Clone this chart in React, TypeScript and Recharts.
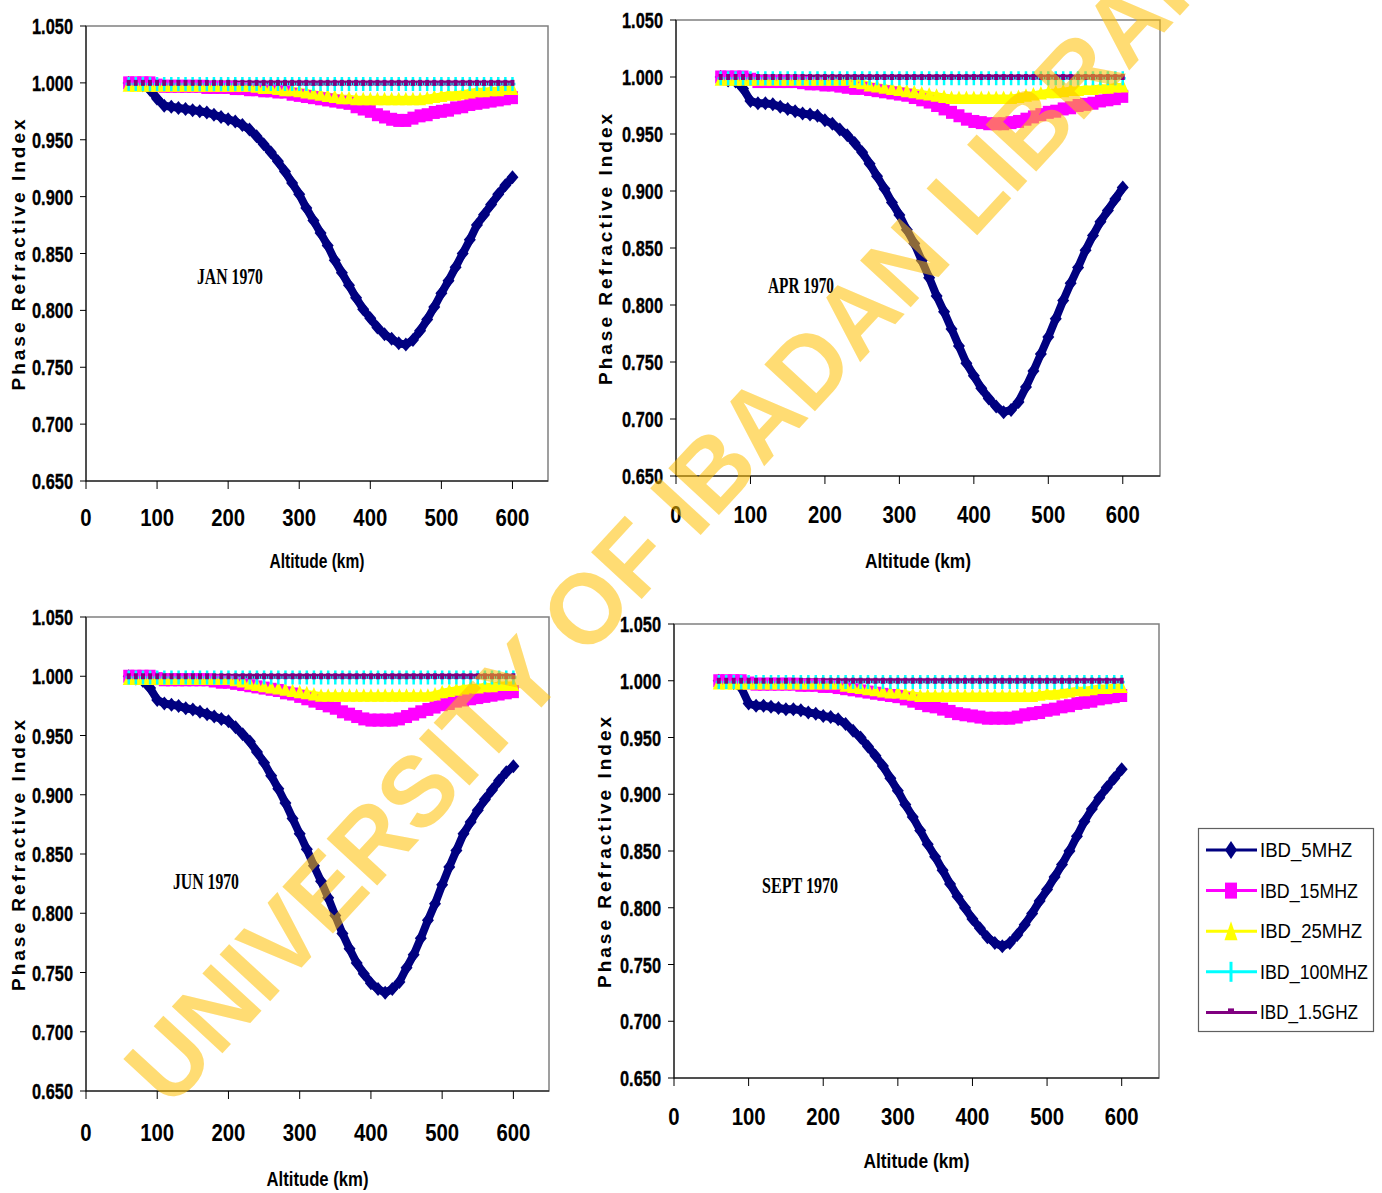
import React from "react"
import { LineChart, Line, XAxis, YAxis, ReferenceArea } from "recharts"

// altitude grid of the model output (km)
const altitudeKm = [
  60, 70, 80, 90, 100, 110, 120, 130, 140, 150, 160, 170, 180, 190, 200, 210, 220, 230, 240, 250,
  260, 270, 280, 290, 300, 310, 320, 330, 340, 350, 360, 370, 380, 390, 400, 410, 420, 430, 440, 450,
  460, 470, 480, 490, 500, 510, 520, 530, 540, 550, 560, 570, 580, 590, 600,
]

const jan5MHz = [
  1.0, 0.999, 0.998, 0.994, 0.986, 0.98, 0.979, 0.978, 0.977, 0.976,
  0.975, 0.974, 0.972, 0.97, 0.968, 0.966, 0.963, 0.959, 0.953, 0.946,
  0.939, 0.931, 0.922, 0.912, 0.902, 0.89, 0.879, 0.868, 0.857, 0.844,
  0.833, 0.822, 0.811, 0.801, 0.793, 0.785, 0.779, 0.775, 0.771, 0.77,
  0.774, 0.782, 0.792, 0.803, 0.815, 0.826, 0.838, 0.85, 0.862, 0.875,
  0.884, 0.893, 0.902, 0.91, 0.917,
]
const jan15MHz = [
  1.0, 1.0, 1.0, 1.0, 0.998, 0.997, 0.997, 0.997, 0.997, 0.997,
  0.997, 0.996, 0.996, 0.996, 0.996, 0.995, 0.995, 0.994, 0.994, 0.993,
  0.993, 0.992, 0.992, 0.99, 0.989, 0.988, 0.987, 0.986, 0.985, 0.984,
  0.983, 0.982, 0.979, 0.977, 0.975, 0.972, 0.97, 0.968, 0.967, 0.967,
  0.969, 0.971, 0.972, 0.974, 0.975, 0.976, 0.978, 0.979, 0.981, 0.982,
  0.983, 0.984, 0.985, 0.986, 0.987,
]
const jan25MHz = [
  0.998, 0.998, 0.998, 0.998, 0.998, 0.998, 0.998, 0.998, 0.998, 0.998,
  0.998, 0.998, 0.998, 0.998, 0.998, 0.998, 0.998, 0.998, 0.997, 0.996,
  0.996, 0.995, 0.994, 0.994, 0.993, 0.992, 0.991, 0.99, 0.989, 0.988,
  0.987, 0.987, 0.986, 0.986, 0.986, 0.986, 0.986, 0.986, 0.986, 0.986,
  0.986, 0.986, 0.987, 0.988, 0.989, 0.99, 0.99, 0.991, 0.992, 0.993,
  0.993, 0.994, 0.994, 0.995, 0.995,
]

const apr5MHz = [
  1.0, 0.997, 0.996, 0.99, 0.979, 0.977, 0.977, 0.976, 0.974, 0.972,
  0.97, 0.968, 0.967, 0.966, 0.962, 0.959, 0.954, 0.949, 0.942, 0.934,
  0.924, 0.913, 0.902, 0.89, 0.879, 0.866, 0.854, 0.839, 0.824, 0.808,
  0.794, 0.779, 0.764, 0.749, 0.738, 0.727, 0.718, 0.711, 0.706, 0.708,
  0.715, 0.728, 0.742, 0.757, 0.772, 0.788, 0.804, 0.819, 0.833, 0.848,
  0.861, 0.873, 0.883, 0.893, 0.903,
]
const apr15MHz = [
  1.0, 1.0, 1.0, 1.0, 0.998, 0.996, 0.996, 0.996, 0.996, 0.996,
  0.996, 0.995, 0.994, 0.994, 0.993, 0.993, 0.992, 0.991, 0.99, 0.99,
  0.989, 0.988, 0.987, 0.986, 0.985, 0.984, 0.982, 0.98, 0.978, 0.975,
  0.972, 0.969, 0.966, 0.963, 0.961, 0.96, 0.959, 0.959, 0.959, 0.96,
  0.961, 0.963, 0.965, 0.967, 0.969, 0.97, 0.972, 0.973, 0.975, 0.976,
  0.977, 0.979, 0.98, 0.981, 0.983,
]
const apr25MHz = [
  0.998, 0.998, 0.998, 0.998, 0.998, 0.998, 0.998, 0.998, 0.998, 0.998,
  0.998, 0.998, 0.998, 0.998, 0.998, 0.998, 0.998, 0.998, 0.996, 0.995,
  0.993, 0.992, 0.991, 0.99, 0.989, 0.988, 0.987, 0.986, 0.985, 0.984,
  0.983, 0.982, 0.982, 0.982, 0.982, 0.982, 0.982, 0.982, 0.982, 0.982,
  0.983, 0.984, 0.985, 0.986, 0.987, 0.987, 0.988, 0.989, 0.989, 0.99,
  0.99, 0.991, 0.991, 0.992, 0.992,
]

const jun5MHz = [
  1.0, 0.998, 0.996, 0.99, 0.98, 0.977, 0.976, 0.975, 0.973, 0.972,
  0.97, 0.968, 0.966, 0.964, 0.962, 0.957, 0.951, 0.945, 0.936, 0.927,
  0.916, 0.905, 0.893, 0.88, 0.867, 0.854, 0.84, 0.827, 0.813, 0.798,
  0.783, 0.77, 0.758, 0.749, 0.741, 0.736, 0.733, 0.736, 0.742, 0.754,
  0.765, 0.779, 0.794, 0.808, 0.824, 0.839, 0.853, 0.867, 0.877, 0.887,
  0.896, 0.904, 0.912, 0.919, 0.924,
]
const jun15MHz = [
  1.0, 1.0, 1.0, 1.0, 0.998, 0.997, 0.997, 0.997, 0.997, 0.997,
  0.997, 0.997, 0.996, 0.995, 0.995, 0.994, 0.993, 0.992, 0.991, 0.99,
  0.989, 0.988, 0.986, 0.985, 0.983, 0.981, 0.979, 0.977, 0.975, 0.973,
  0.97, 0.968, 0.966, 0.964, 0.963, 0.963, 0.963, 0.963, 0.964, 0.966,
  0.968, 0.97, 0.972, 0.974, 0.976, 0.977, 0.979, 0.98, 0.981, 0.982,
  0.983, 0.984, 0.985, 0.986, 0.987,
]
const jun25MHz = [
  0.998, 0.998, 0.998, 0.998, 0.998, 0.998, 0.998, 0.998, 0.998, 0.998,
  0.998, 0.998, 0.998, 0.998, 0.998, 0.997, 0.996, 0.994, 0.993, 0.992,
  0.991, 0.99, 0.989, 0.988, 0.987, 0.986, 0.985, 0.984, 0.984, 0.984,
  0.984, 0.984, 0.984, 0.984, 0.984, 0.984, 0.984, 0.984, 0.984, 0.984,
  0.984, 0.984, 0.984, 0.985, 0.987, 0.988, 0.989, 0.99, 0.991, 0.991,
  0.992, 0.992, 0.993, 0.993, 0.993,
]

const sep5MHz = [
  1.0, 0.999, 0.998, 0.994, 0.98, 0.978, 0.978, 0.977, 0.976, 0.975,
  0.975, 0.974, 0.972, 0.971, 0.969, 0.968, 0.966, 0.962, 0.956, 0.95,
  0.942, 0.934, 0.925, 0.914, 0.903, 0.891, 0.88, 0.868, 0.856, 0.845,
  0.833, 0.821, 0.81, 0.8, 0.79, 0.782, 0.774, 0.769, 0.766, 0.769,
  0.776, 0.785, 0.795, 0.806, 0.816, 0.827, 0.838, 0.85, 0.863, 0.876,
  0.887, 0.897, 0.906, 0.914, 0.922,
]
const sep15MHz = [
  1.0, 1.0, 1.0, 1.0, 0.998, 0.997, 0.997, 0.997, 0.997, 0.997,
  0.997, 0.996, 0.996, 0.996, 0.995, 0.995, 0.994, 0.993, 0.992, 0.991,
  0.99, 0.989, 0.988, 0.987, 0.986, 0.984, 0.982, 0.98, 0.978, 0.977,
  0.975, 0.973, 0.971, 0.97, 0.969, 0.968, 0.967, 0.967, 0.967, 0.967,
  0.968, 0.97, 0.971, 0.972, 0.974, 0.975, 0.977, 0.978, 0.98, 0.981,
  0.982, 0.984, 0.985, 0.986, 0.987,
]
const sep25MHz = [
  0.998, 0.998, 0.998, 0.998, 0.998, 0.998, 0.998, 0.998, 0.998, 0.998,
  0.998, 0.998, 0.998, 0.998, 0.998, 0.998, 0.998, 0.996, 0.995, 0.994,
  0.993, 0.992, 0.991, 0.99, 0.99, 0.989, 0.988, 0.987, 0.987, 0.987,
  0.987, 0.987, 0.987, 0.987, 0.987, 0.987, 0.987, 0.987, 0.987, 0.987,
  0.987, 0.987, 0.987, 0.988, 0.989, 0.989, 0.99, 0.991, 0.992, 0.992,
  0.993, 0.994, 0.994, 0.995, 0.995,
]

// 100 MHz and 1.5 GHz stay on 1.000 in every month
const all100MHz = [
  0.999, 0.999, 0.999, 0.999, 0.999, 0.999, 0.999, 0.999, 0.999, 0.999,
  0.999, 0.999, 0.999, 0.999, 0.999, 0.999, 0.999, 0.999, 0.999, 0.999,
  0.999, 0.999, 0.999, 0.999, 0.999, 0.999, 0.999, 0.999, 0.999, 0.999,
  0.999, 0.999, 0.999, 0.999, 0.999, 0.999, 0.999, 0.999, 0.999, 0.999,
  0.999, 0.999, 0.999, 0.999, 0.999, 0.999, 0.999, 0.999, 0.999, 0.999,
  0.999, 0.999, 0.999, 0.999, 0.999,
]
const all1500MHz = [
  1.0, 1.0, 1.0, 1.0, 1.0, 1.0, 1.0, 1.0, 1.0, 1.0,
  1.0, 1.0, 1.0, 1.0, 1.0, 1.0, 1.0, 1.0, 1.0, 1.0,
  1.0, 1.0, 1.0, 1.0, 1.0, 1.0, 1.0, 1.0, 1.0, 1.0,
  1.0, 1.0, 1.0, 1.0, 1.0, 1.0, 1.0, 1.0, 1.0, 1.0,
  1.0, 1.0, 1.0, 1.0, 1.0, 1.0, 1.0, 1.0, 1.0, 1.0,
  1.0, 1.0, 1.0, 1.0, 1.0,
]

const xTicks = [0, 100, 200, 300, 400, 500, 600]
const yTicks = [0.65, 0.7, 0.75, 0.8, 0.85, 0.9, 0.95, 1.0, 1.05]
const seriesNames = ["IBD_5MHZ", "IBD_15MHZ", "IBD_25MHZ", "IBD_100MHZ", "IBD_1.5GHZ"]

const NAVY = "#000080"
const MAGENTA = "#FF00FF"
const YELLOW = "#FFFF00"
const CYAN = "#00FFFF"
const PURPLE = "#800080"

const SANS = "'Liberation Sans', Arial, sans-serif"

const panels = [
  { month: "JAN 1970", f5: jan5MHz, f15: jan15MHz, f25: jan25MHz, left: 0, top: 6, width: 558, height: 575, xMargin: 20, xTitleY: 568, xTitleW: 95, yTitleX: 18, note: [230, 276] },
  { month: "APR 1970", f5: apr5MHz, f15: apr15MHz, f25: apr25MHz, left: 590, top: 0, width: 580, height: 576, xMargin: 22, xTitleY: 568, xTitleW: 106, yTitleX: 15, note: [801, 285] },
  { month: "JUN 1970", f5: jun5MHz, f15: jun15MHz, f25: jun25MHz, left: 0, top: 597, width: 559, height: 594, xMargin: 25, xTitleY: 1186, xTitleW: 102, yTitleX: 18, note: [206, 881] },
  { month: "SEPT 1970", f5: sep5MHz, f15: sep15MHz, f25: sep25MHz, left: 588, top: 604, width: 581, height: 574, xMargin: 22, xTitleY: 1168, xTitleW: 106, yTitleX: 16, note: [800, 885] },
]

const ok = (p: any) => Number.isFinite(p.cx) && Number.isFinite(p.cy)

const diamondDot = (p: any) =>
  ok(p) ? (
    <path key={`dm${p.index}`} d={`M${p.cx} ${p.cy - 7}L${p.cx + 6} ${p.cy}L${p.cx} ${p.cy + 7}L${p.cx - 6} ${p.cy}Z`} fill={NAVY} />
  ) : (
    <g key={`dm${p.index}`} />
  )

const squareDot = (p: any) =>
  ok(p) ? <rect key={`sq${p.index}`} x={p.cx - 5.5} y={p.cy - 6.5} width={11} height={13} fill={MAGENTA} /> : <g key={`sq${p.index}`} />

const triangleDot = (p: any) =>
  ok(p) ? (
    <path key={`tr${p.index}`} d={`M${p.cx} ${p.cy - 7}L${p.cx + 6} ${p.cy + 6.5}L${p.cx - 6} ${p.cy + 6.5}Z`} fill={YELLOW} />
  ) : (
    <g key={`tr${p.index}`} />
  )

const plusDot = (p: any) =>
  ok(p) ? (
    <path key={`pl${p.index}`} d={`M${p.cx} ${p.cy - 7}V${p.cy + 7}M${p.cx - 3} ${p.cy}H${p.cx + 3}`} stroke={CYAN} strokeWidth={2.5} fill="none" />
  ) : (
    <g key={`pl${p.index}`} />
  )

const dashDot = (p: any) =>
  ok(p) ? <rect key={`ds${p.index}`} x={p.cx - 2} y={p.cy - 3} width={4} height={6} fill={PURPLE} /> : <g key={`ds${p.index}`} />

const YTick = (props: any) => {
  const { x, y, payload } = props
  return (
    <text
      x={x}
      y={y + 8}
      textAnchor="end"
      fontFamily={SANS}
      fontWeight="bold"
      fontSize={22}
      textLength={41}
      lengthAdjust="spacingAndGlyphs"
      fill="#000"
      stroke="#000"
      strokeWidth={0.35}
    >
      {Number(payload.value).toFixed(3)}
    </text>
  )
}

const XTick = (props: any) => {
  const { x, y, payload } = props
  const label = String(payload.value)
  return (
    <text x={x} y={y + 17} textAnchor="middle" fontFamily={SANS} fontWeight="bold" fontSize={24} textLength={label.length * 11.3} lengthAdjust="spacingAndGlyphs" fill="#000">
      {label}
    </text>
  )
}

function Panel({ panel }: { panel: (typeof panels)[number] }) {
  const rows = altitudeKm.map((alt, i) => ({
    alt,
    f5: panel.f5[i],
    f15: panel.f15[i],
    f25: panel.f25[i],
    f100: all100MHz[i],
    f1500: all1500MHz[i],
  }))
  const plotLeft = panel.left + 86
  const plotRight = panel.left + panel.width - 10
  return (
    <div style={{ position: "absolute", left: panel.left, top: panel.top }}>
      <LineChart width={panel.width} height={panel.height} data={rows} margin={{ top: 20, right: 10, bottom: 0, left: 0 }}>
        <ReferenceArea x1={0} x2={650} y1={0.65} y2={1.05} fill="none" stroke="#808080" strokeWidth={1.5} ifOverflow="visible" />
        <XAxis
          type="number"
          dataKey="alt"
          domain={[0, 650]}
          ticks={xTicks}
          height={100}
          stroke="#000"
          tickSize={8}
          tickMargin={panel.xMargin}
          tick={<XTick />}
          label={{
            value: "Altitude (km)",
            content: () => (
              <text
                x={(plotLeft + plotRight) / 2 - panel.left}
                y={panel.xTitleY - panel.top}
                textAnchor="middle"
                fontFamily={SANS}
                fontWeight="bold"
                fontSize={21}
                textLength={panel.xTitleW}
                lengthAdjust="spacingAndGlyphs"
                fill="#000"
              >
                Altitude (km)
              </text>
            ),
          }}
        />
        <YAxis
          type="number"
          domain={[0.65, 1.05]}
          ticks={yTicks}
          width={86}
          stroke="#000"
          tickSize={6}
          tickMargin={7}
          tick={<YTick />}
          label={{
            value: "Phase Refractive Index",
            angle: -90,
            position: "insideLeft",
            offset: panel.yTitleX,
            style: { textAnchor: "middle", fontSize: 19, fontFamily: SANS, fontWeight: "bold", letterSpacing: 3, fill: "#000" },
          }}
        />
        <Line dataKey="f5" name={seriesNames[0]} stroke={NAVY} strokeWidth={8} dot={diamondDot} activeDot={false} isAnimationActive={false} />
        <Line dataKey="f15" name={seriesNames[1]} stroke={MAGENTA} strokeWidth={7} dot={squareDot} activeDot={false} isAnimationActive={false} />
        <Line dataKey="f25" name={seriesNames[2]} stroke={YELLOW} strokeWidth={6} dot={triangleDot} activeDot={false} isAnimationActive={false} />
        <Line dataKey="f100" name={seriesNames[3]} stroke={CYAN} strokeWidth={2} dot={plusDot} activeDot={false} isAnimationActive={false} />
        <Line dataKey="f1500" name={seriesNames[4]} stroke={PURPLE} strokeWidth={5} dot={dashDot} activeDot={false} isAnimationActive={false} />
      </LineChart>
    </div>
  )
}

const legendMarks = [
  (x: number, y: number) => <path d={`M${x} ${y - 9}L${x + 6} ${y}L${x} ${y + 9}L${x - 6} ${y}Z`} fill={NAVY} />,
  (x: number, y: number) => <rect x={x - 6} y={y - 8} width={12} height={16} fill={MAGENTA} />,
  (x: number, y: number) => <path d={`M${x} ${y - 10}L${x + 6.5} ${y + 9}L${x - 6.5} ${y + 9}Z`} fill={YELLOW} />,
  (x: number, y: number) => <path d={`M${x} ${y - 10}V${y + 10}`} stroke={CYAN} strokeWidth={3} />,
  (x: number, y: number) => <rect x={x - 3} y={y - 4} width={6} height={5} fill={PURPLE} />,
]
const legendColors = [NAVY, MAGENTA, YELLOW, CYAN, PURPLE]
const legendWidths = [92, 98, 102, 108, 98]

function Overlay() {
  return (
    <svg width={1382} height={1193} style={{ position: "absolute", left: 0, top: 0, pointerEvents: "none" }}>
      {panels.map((p) => (
        <text
          key={p.month}
          x={p.note[0]}
          y={p.note[1] + 8}
          textAnchor="middle"
          fontFamily="'Liberation Serif', 'Times New Roman', serif"
          fontWeight="bold"
          fontSize={23}
          textLength={p.month.length > 8 ? 76 : 66}
          lengthAdjust="spacingAndGlyphs"
          fill="#000"
        >
          {p.month}
        </text>
      ))}
      <rect x={1198.5} y={828.5} width={175} height={203} fill="#fff" stroke="#606060" strokeWidth={1.2} />
      {seriesNames.map((name, i) => {
        const cy = 850 + i * 40.6
        return (
          <g key={name}>
            <line x1={1206} x2={1257} y1={cy} y2={cy} stroke={legendColors[i]} strokeWidth={3} />
            {legendMarks[i](1231, cy)}
            <text x={1260} y={cy + 7} fontFamily={SANS} fontSize={20} textLength={legendWidths[i]} lengthAdjust="spacingAndGlyphs" fill="#000">
              {name}
            </text>
          </g>
        )
      })}
      <text
        x={170}
        y={1110}
        transform="rotate(-47.3 170 1110)"
        fontFamily={SANS}
        fontWeight="bold"
        fontSize={100}
        textLength={1615}
        lengthAdjust="spacingAndGlyphs"
        fill="#FFC000"
        fillOpacity={0.55}
      >
        UNIVERSITY OF IBADAN LIBRARY
      </text>
    </svg>
  )
}

export default function App() {
  return (
    <div style={{ position: "absolute", left: 0, top: 0, width: 1382, height: 1193, background: "#fff", overflow: "hidden" }}>
      {panels.map((p) => (
        <Panel key={p.month} panel={p} />
      ))}
      <Overlay />
    </div>
  )
}
